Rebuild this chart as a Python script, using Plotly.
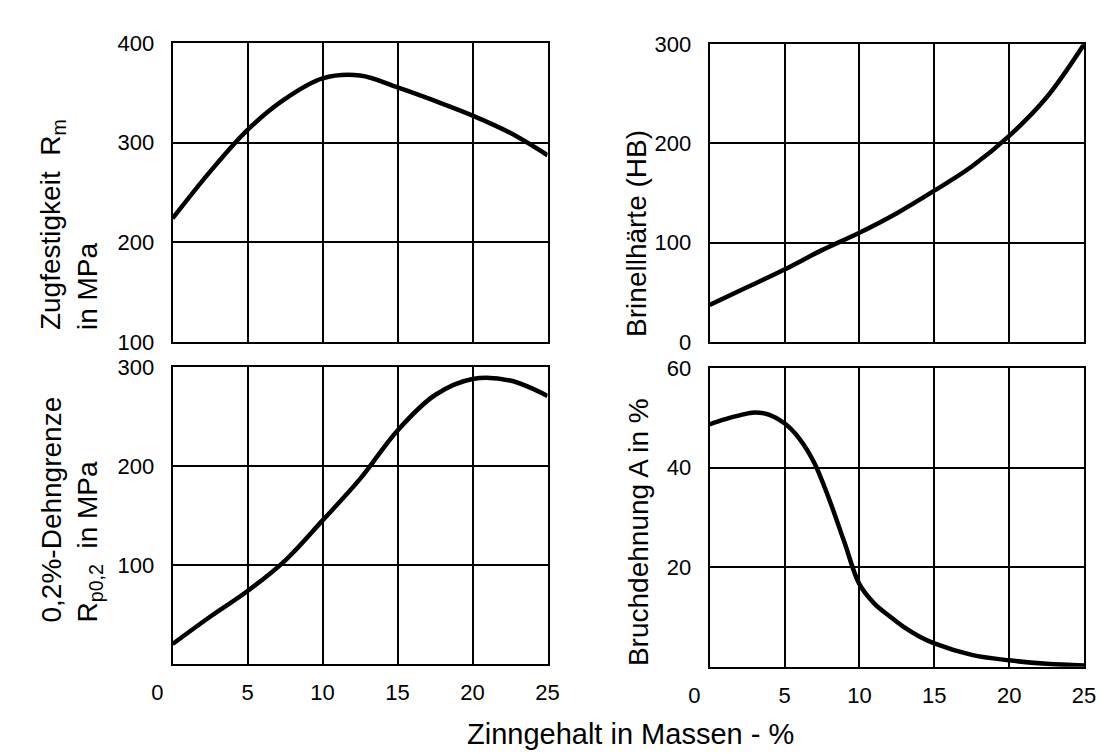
import plotly.graph_objects as go

# ---------------- data ----------------
x_rm = [0, 2.5, 5, 7.5, 10, 12.5, 15, 17.5, 20, 22.5, 25]
rm = [224, 271, 313, 344, 364.6, 367.5, 355.6, 342, 327.3, 310, 287.5]

x_hb = [0, 2.5, 5, 7.5, 10, 12.5, 15, 17.5, 20, 22.5, 25]
hb = [37.3, 55.1, 73, 92.5, 110, 129.7, 152.4, 176.8, 207.6, 246.5, 300]

x_rp = [0, 2.5, 5, 7.5, 10, 12.5, 15, 17.5, 20, 22.5, 25]
rp = [20.1, 47.7, 73.7, 104.5, 145.1, 187, 236, 271.8, 288, 286.4, 270.8]

x_a = [0, 1, 2, 3, 4, 5, 6, 7, 8, 9, 10, 11, 12, 13, 14, 15, 17.5, 20, 22.5, 25]
a = [48.7, 49.7, 50.5, 51.1, 50.6, 48.9, 45.8, 40.9, 33.5, 25, 16.6, 12.7, 10.2, 7.9, 6.1, 4.7, 2.4, 1.3, 0.6, 0.25]

x_ticks = [0, 5, 10, 15, 20, 25]
x_ticktext = ["0" + "\u00a0" * 5, "5", "10", "15", "20", "25"]
rm_ticks = [100, 200, 300, 400]
hb_ticks = [0, 100, 200, 300]
rp_ticks = [100, 200, 300]
a_ticks = [20, 40, 60]

title_rm = "Zugfestigkeit  R<sub>m</sub><br>in MPa"
title_hb = "Brinellhärte (HB)"
title_rp = "0,2%-Dehngrenze<br>R<sub>p0,2</sub>  in MPa"
title_a = "Bruchdehnung A in %"
title_x = "Zinngehalt in Massen - %"

# ---------------- figure ----------------
W, H = 1108, 754
FONT = "Liberation Sans, Arial, sans-serif"

def px_x(p):
    return p / W

def px_y(p):
    return 1 - p / H

fig = go.Figure()
line = dict(color="black", width=4.5, shape="spline", smoothing=1.0)
fig.add_trace(go.Scatter(x=x_rm, y=rm, mode="lines", line=line, xaxis="x", yaxis="y", showlegend=False))
fig.add_trace(go.Scatter(x=x_hb, y=hb, mode="lines", line=line, xaxis="x2", yaxis="y2", showlegend=False))
fig.add_trace(go.Scatter(x=x_rp, y=rp, mode="lines", line=line, xaxis="x3", yaxis="y3", showlegend=False))
fig.add_trace(go.Scatter(x=x_a, y=a, mode="lines", line=line, xaxis="x4", yaxis="y4", showlegend=False))

common = dict(showline=True, mirror=True, linecolor="black", linewidth=2,
              showgrid=True, gridcolor="black", gridwidth=1.5, zeroline=False,
              ticks="", tickfont=dict(family=FONT, size=22, color="black"),
              fixedrange=True)

xl = [px_x(148), px_x(534.5)]
xr = [px_x(701.5), px_x(1087.5)]

def xaxis(domain, anchor, labels):
    d = dict(common)
    d.update(domain=domain, anchor=anchor, range=[0, 25], tickmode="array",
             tickvals=x_ticks, ticktext=x_ticktext, showticklabels=labels,
             ticklabelstandoff=8)
    return d

def yaxis(domain, anchor, rng, ticks):
    d = dict(common)
    d.update(domain=domain, anchor=anchor, range=rng, tickmode="array",
             tickvals=ticks, ticklabelstandoff=12)
    return d

fig.update_layout(
    width=W, height=H,
    margin=dict(l=0, r=0, t=0, b=0),
    paper_bgcolor="white", plot_bgcolor="white",
    font=dict(family=FONT, color="black"),
    xaxis=xaxis(xl, "y", False),
    yaxis=yaxis([px_y(333), px_y(24)], "x", [100, 400], rm_ticks),
    xaxis2=xaxis(xr, "y2", False),
    yaxis2=yaxis([px_y(333), px_y(25)], "x2", [0, 300], hb_ticks),
    xaxis3=xaxis(xl, "y3", True),
    yaxis3=yaxis([px_y(666), px_y(359)], "x3", [0, 300], rp_ticks),
    xaxis4=xaxis(xr, "y4", True),
    yaxis4=yaxis([px_y(669), px_y(360)], "x4", [0, 60], a_ticks),
)

def ann(text, x, y, xanchor="center", yanchor="bottom", angle=-90, size=28):
    fig.add_annotation(text=text, x=x, y=y, xref="paper", yref="paper",
                       xanchor=xanchor, yanchor=yanchor, textangle=angle,
                       showarrow=False, align="left",
                       font=dict(family=FONT, size=size, color="black"))

ann(title_rm, px_x(41.5), px_y(323))
ann(title_rp, px_x(43.5), px_y(625))
ann(title_hb, px_x(626), px_y(330))
ann(title_a, px_x(629), px_y(670))
ann(title_x, px_x(620), px_y(738), yanchor="middle", angle=0, size=29)

fig.write_html("out.html")
